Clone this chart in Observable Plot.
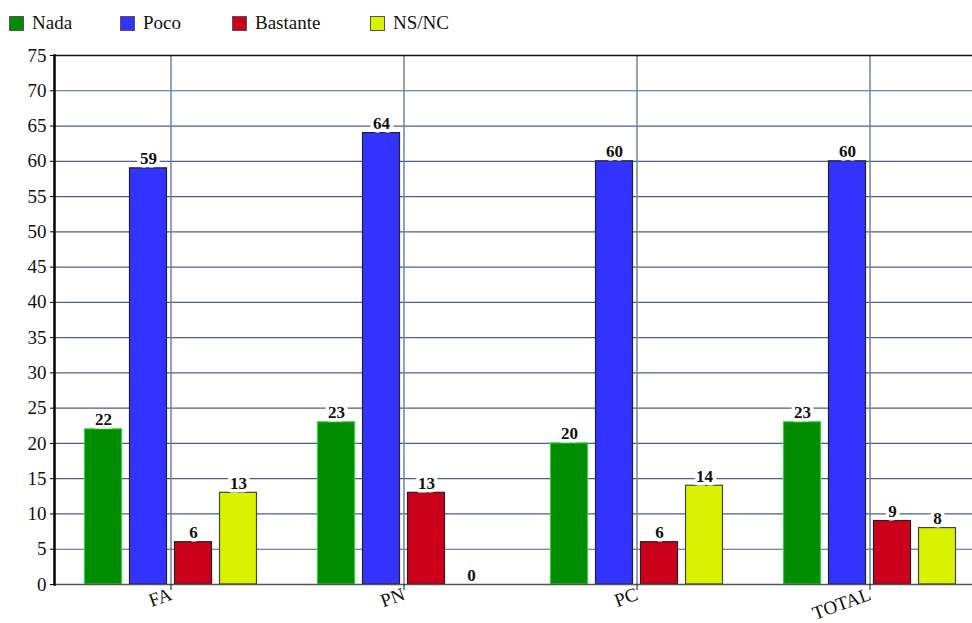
<!DOCTYPE html>
<html><head><meta charset="utf-8">
<script src="https://cdn.jsdelivr.net/npm/d3@7"></script>
<script src="https://cdn.jsdelivr.net/npm/@observablehq/plot@0.6"></script>
<style>
body{margin:0;background:#fff;overflow:hidden;width:972px;height:623px}
#legend{position:relative;height:45px;font-family:"Liberation Serif",serif;font-size:19px;color:#111}
.sw{position:absolute;top:16px;width:15px;height:15px;border:1px solid #555;box-sizing:border-box}
.lt{position:absolute;top:13px;line-height:19px;white-space:nowrap}
#chart svg{overflow:visible}
</style></head>
<body><div id="legend"></div><div id="chart"></div>
<script>
const groups = ["FA", "PN", "PC", "TOTAL"];
const series = ["Nada", "Poco", "Bastante", "NS/NC"];
const nada = [22, 23, 20, 23];
const poco = [59, 64, 60, 60];
const bastante = [6, 13, 6, 9];
const nsnc = [13, 0, 14, 8];
const yTicks = [0, 5, 10, 15, 20, 25, 30, 35, 40, 45, 50, 55, 60, 65, 70, 75];
const colors = ["#008c00", "#3333ff", "#cc001a", "#d8f200"];
const edges = ["#3ccc3c", "#222222", "#222222", "#444444"];

const valueSets = [nada, poco, bastante, nsnc];
const table = groups.flatMap((g, gi) => series.map((s, si) => ({group: g, series: s, value: valueSets[si][gi]})));

// legend
const legendX = [9, 120, 232, 370];
const leg = document.getElementById("legend");
series.forEach((s, i) => {
  const sw = document.createElement("div");
  sw.className = "sw"; sw.style.left = legendX[i] + "px"; sw.style.background = colors[i];
  leg.appendChild(sw);
  const t = document.createElement("div");
  t.className = "lt"; t.style.left = (legendX[i] + 23) + "px"; t.textContent = s;
  leg.appendChild(t);
});

const font = "Liberation Serif, Times New Roman, serif";
const step = 45;
const barMarks = series.map((s, si) => {
  const rows = table.filter(d => d.series === s);
  const dx = (si - 1.5) * step;
  return Plot.barY(rows, {x: "group", y: "value", fill: colors[si], stroke: edges[si], strokeWidth: 1.2, dx, insetLeft: 98, insetRight: 98});
});
const textMarks = series.map((s, si) => {
  const rows = table.filter(d => d.series === s);
  const dx = (si - 1.5) * step;
  return Plot.text(rows, {x: "group", y: "value", text: d => String(d.value), dx, dy: -4, lineAnchor: "bottom",
    fill: "#111", stroke: "white", strokeWidth: 7, fontSize: 17, fontWeight: "bold", fontFamily: font});
});

const chart = Plot.plot({
  width: 972,
  height: 578,
  marginTop: 10,
  marginBottom: 39,
  marginLeft: 54,
  marginRight: 0,
  style: {fontFamily: font, color: "#111", background: "white"},
  x: {domain: groups, range: [54, 986], padding: 0, label: null},
  y: {domain: [0, 75], label: null},
  marks: [
    Plot.gridY(yTicks.filter(t => t > 0 && t < 75), {stroke: "#44628a", strokeOpacity: 1, strokeWidth: 1.2}),
    Plot.gridX({stroke: "#6e84a0", strokeOpacity: 1, strokeWidth: 1.5}),
    Plot.ruleY([75], {stroke: "#111", strokeWidth: 1.5}),
    ...barMarks,
    ...textMarks,
    Plot.ruleY([0], {stroke: "#555", strokeWidth: 1.5}),
    Plot.frame({anchor: "left", stroke: "#000", strokeWidth: 2.5}),
    Plot.axisY({ticks: yTicks, tickSize: 4, tickPadding: 4, fontSize: 19, label: null, stroke: "#000"}),
    Plot.axisX({tickSize: 6, tickPadding: 3, tickRotate: -20, fontSize: 19, label: null})
  ]
});
document.getElementById("chart").appendChild(chart);
</script>
</body></html>
